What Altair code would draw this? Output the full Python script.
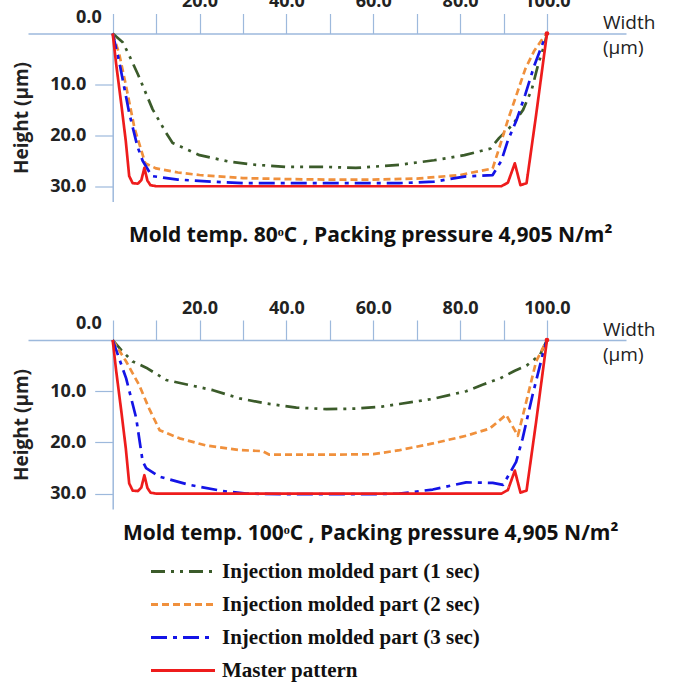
import altair as alt
import pandas as pd

SERIES = ["Injection molded part (1 sec)", "Injection molded part (2 sec)",
          "Injection molded part (3 sec)", "Master pattern"]
COLORS = ["#3B5B2A", "#F0903C", "#1414E6", "#EE1C1C"]
DASHES = [[14, 6, 3, 6, 3, 6], [7, 4], [16, 6, 4, 6], [1, 0]]

X_TICKS = [0, 10, 20, 30, 40, 50, 60, 70, 80, 90, 100]
Y_TICKS = [10, 20, 30]
SUBTITLES = ["Mold temp. 80\u1d52C , Packing pressure 4,905  N/m\u00b2",
             "Mold temp. 100\u1d52C , Packing pressure 4,905  N/m\u00b2"]

# Master pattern (same in both panels)
master_x = [0, 0.8, 2.0, 3.0, 3.8, 4.6, 5.8, 6.6, 7.3, 8.0, 8.7, 10, 20, 30, 40, 50,
            60, 70, 80, 89.5, 91.0, 92.6, 93.9, 95.3, 97.5, 100]
master_y = [0, 6.0, 14.0, 21.0, 28.0, 29.4, 29.5, 28.8, 26.4, 28.9, 29.8, 30, 30, 30, 30, 30,
            30, 30, 30, 30, 29.3, 25.5, 29.8, 29.4, 16.0, 0]

# Panel 1: mold temp 80 C
a1_x = [0, 2.3, 3.8, 5.8, 9.2, 12.3, 13.8, 20, 27, 33, 40, 49, 56, 66, 74, 81, 87,
        89, 92, 94.5, 96.5, 98, 99.5, 100]
a1_y = [0, 1.7, 4.3, 8.0, 14.9, 19.5, 21.5, 23.9, 25.2, 25.8, 26.2, 26.2, 26.4, 25.8,
        24.9, 23.9, 22.6, 20.5, 18.0, 15.0, 11.0, 6.0, 2.0, 0]
a2_x = [0, 1.5, 3, 5, 7.5, 10, 15, 20, 30, 40, 50, 60, 70, 80, 87.5, 89, 91, 93, 95,
        97, 99, 100]
a2_y = [0, 4.0, 10.0, 18.5, 25.5, 26.5, 27.3, 27.8, 28.4, 28.6, 28.7, 28.7, 28.5, 27.8,
        26.5, 22.5, 17.0, 12.0, 7.0, 3.5, 1.0, 0]
a3_x = [0, 1.5, 3.8, 5.7, 6.9, 9, 15, 23, 30, 40, 50, 60, 66, 74, 81, 87.5, 89.5, 91,
        93, 95, 97, 99, 100]
a3_y = [0, 5.5, 15.6, 22.2, 25.0, 28.0, 28.7, 29.1, 29.4, 29.4, 29.4, 29.4, 29.4, 29.1,
        28.1, 27.8, 25.0, 21.0, 17.0, 12.0, 6.5, 2.0, 0]

# Panel 2: mold temp 100 C
b1_x = [0, 2, 4.6, 7.7, 12.3, 17.7, 23.1, 29.2, 35.4, 42.3, 49.2, 56, 62, 66, 73.7,
        81.4, 85.3, 89.2, 92.6, 95.3, 98.4, 100]
b1_y = [0, 2.0, 4.2, 5.4, 7.8, 8.8, 9.8, 11.4, 12.4, 13.2, 13.5, 13.4, 13.0, 12.5, 11.5,
        10.0, 8.7, 7.5, 6.0, 5.0, 2.9, 0]
b2_x = [0, 3.1, 6.1, 8.4, 10.8, 15.4, 21.5, 29.2, 34.5, 36.1, 49.2, 60, 66.1, 73.7,
        81.4, 86.8, 90.6, 93.3, 96, 97.5, 100]
b2_y = [0, 4.2, 8.8, 13.4, 17.6, 19.2, 20.6, 21.5, 21.7, 22.4, 22.4, 22.3, 21.5, 20.2,
        18.7, 17.3, 14.6, 18.7, 9.4, 4.2, 0]
b3_x = [0, 3.1, 5.4, 6.9, 7.7, 10.8, 17.7, 25.4, 30.8, 40, 49, 60, 66, 73.7, 81.4,
        87.5, 89.9, 92.9, 94.4, 96.7, 99, 100]
b3_y = [0, 7.5, 15.2, 23.7, 25.0, 26.7, 28.3, 29.5, 30.0, 30.1, 30.1, 30.1, 30.0, 29.2,
        27.8, 27.9, 28.3, 23.8, 19.2, 10.7, 2.9, 0]


def frame(pairs):
    rows = []
    for name, xs, ys in pairs:
        for xv, yv in zip(xs, ys):
            rows.append({"x": xv, "y": yv, "series": name})
    return pd.DataFrame(rows)


AXC = "#9DB9DC"
SANS = "Open Sans"
XDOM = [-19.5, 118.2]


def panel(df, subtitle, height, sub_dy, legend):
    xs = alt.Scale(domain=XDOM, nice=False, zero=False)
    ys = alt.Scale(domain=[0, 33], reverse=True, nice=False, zero=False)
    xaxis = alt.Axis(orient="top", values=X_TICKS,
                     labelExpr="(datum.value % 20 == 0 && datum.value > 0) ? format(datum.value, '.1f') : ''",
                     tickSize=20, labelPadding=3, domainColor=AXC, tickColor=AXC,
                     domainWidth=1.5, tickWidth=1.2, grid=False, title=None,
                     labelFont=SANS, labelFontSize=18, labelFontWeight="bold",
                     labelColor="#222222")
    yaxis = alt.Axis(orient="left", offset=-84.7, values=Y_TICKS, format=".1f",
                     tickSize=18, labelPadding=9, domainColor=AXC, tickColor=AXC,
                     domainWidth=1.5, tickWidth=1.2, grid=False,
                     title="Height (\u03bcm)", titlePadding=18, titleFont=SANS,
                     titleFontSize=19, titleFontWeight="bold", titleColor="#222222",
                     labelFont=SANS, labelFontSize=18, labelFontWeight="bold",
                     labelColor="#222222")
    X = alt.X("x:Q", scale=xs, axis=xaxis)
    Y = alt.Y("y:Q", scale=ys, axis=yaxis)
    lines = alt.Chart(df).mark_line(strokeWidth=2.7, strokeJoin="round").encode(
        x=X, y=Y,
        color=alt.Color("series:N", scale=alt.Scale(domain=SERIES, range=COLORS),
                        legend=legend),
        strokeDash=alt.StrokeDash("series:N", scale=alt.Scale(domain=SERIES, range=DASHES),
                                  legend=legend),
    )
    end_dot = alt.Chart(df).transform_filter(
        "datum.series == 'Master pattern' && datum.x == 100").mark_circle(
        size=22, color="#EE1C1C", opacity=1).encode(x=X, y=Y)
    zero = alt.Chart(pd.DataFrame({"x": [0], "y": [0], "t": ["0.0"]})).mark_text(
        align="right", baseline="middle", dx=-11, dy=-16, font=SANS, fontSize=18,
        fontWeight="bold", color="#222222").encode(x=X, y=Y, text="t:N")
    unit = alt.Chart(pd.DataFrame({"x": [112.9], "y": [0], "t": ["Width\n(\u03bcm)"]})).mark_text(
        align="left", baseline="alphabetic", dy=-4.5, lineBreak="\n", lineHeight=25,
        font=SANS, fontSize=19, color="#222222").encode(x=X, y=Y, text="t:N")
    sub = alt.Chart(pd.DataFrame({"x": [59.4], "y": [33], "t": [subtitle]})).mark_text(
        align="center", baseline="alphabetic", dy=sub_dy, font=SANS, fontSize=21,
        fontWeight="bold", color="#111111").encode(x=X, y=Y, text="t:N")
    return alt.layer(lines, end_dot, zero, unit, sub).properties(width=598, height=height)


df_a = frame([(SERIES[0], a1_x, a1_y), (SERIES[1], a2_x, a2_y), (SERIES[2], a3_x, a3_y),
              (SERIES[3], master_x, master_y)])
df_b = frame([(SERIES[0], b1_x, b1_y), (SERIES[1], b2_x, b2_y), (SERIES[2], b3_x, b3_y),
              (SERIES[3], master_x, master_y)])

leg = alt.Legend(orient="none", legendX=144.5, legendY=221, title=None,
                 symbolType="M-4,0L4,0", symbolSize=256, symbolStrokeWidth=3,
                 labelFont="Liberation Serif", labelFontWeight="bold", labelFontSize=21,
                 labelColor="#111111", labelOffset=28.5, labelLimit=500, rowPadding=11,
                 padding=0)

top = panel(df_a, SUBTITLES[0], 168, 40.5, None)
bottom = panel(df_b, SUBTITLES[1], 169, 31, leg)

chart = alt.vconcat(top, bottom, spacing=52.5).resolve_legend(
    color="independent", strokeDash="independent").properties(
    padding={"top": -7.5, "left": 12, "right": 0, "bottom": 0},
    background="white").configure_view(stroke=None)

chart.save("out.html", embed_options={"renderer": "svg", "actions": False})
